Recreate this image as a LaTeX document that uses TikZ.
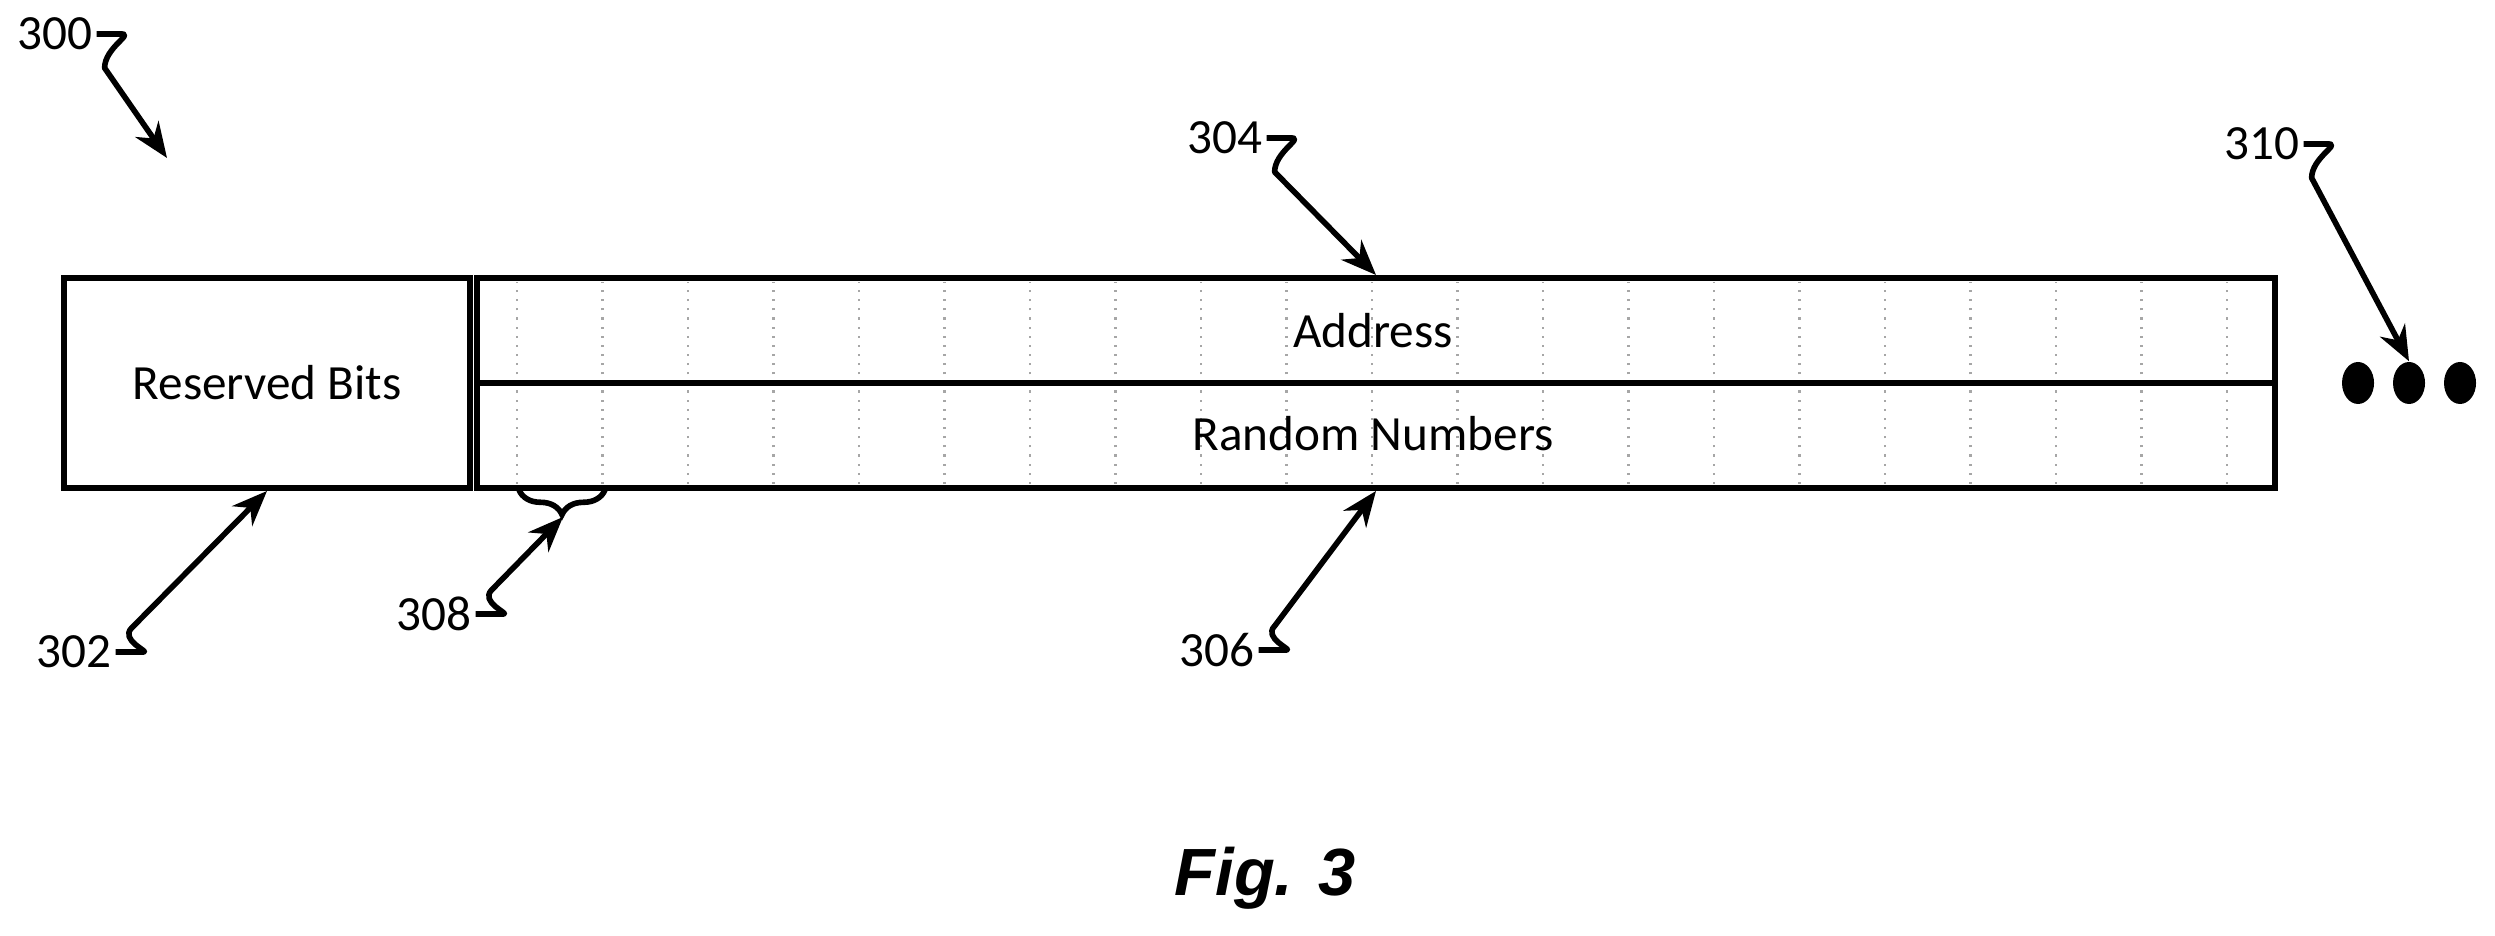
\documentclass[tikz,border=0pt]{standalone}
\usepackage{fontspec}
\setmainfont{Carlito}
\newfontfamily\figfont{Liberation Sans}
\usetikzlibrary{arrows.meta,positioning,decorations.pathreplacing,shapes.geometric}
\tikzset{
  field/.style={draw,line width=1.7pt,minimum height=2.10cm,inner sep=0pt,font=\fontsize{14}{16}\selectfont},
  numlbl/.style={inner sep=1pt,font=\fontsize{14}{16}\selectfont},
  leader/.style={line width=1.6pt,-{Stealth[length=10pt,width=8pt]},line join=round},
  bitline/.style={gray!70,dotted,line width=0.6pt}
}
\begin{document}
\begin{tikzpicture}
\useasboundingbox (0,0) rectangle (24.95,9.36);

% fields
\node[field,minimum width=4.06cm] (rsv) at (2.67,5.53) {Reserved Bits};
\node[field,minimum width=17.98cm] (data) at (13.76,5.53) {};
\foreach \i in {0,...,20}
  \draw[bitline] (5.17+0.855*\i,4.52) -- (5.17+0.855*\i,6.54);
\draw[line width=1.7pt] (data.west) -- (data.east);
\node[font=\fontsize{14}{16}\selectfont] (addr) at (13.73,6.05) {Address};
\node[font=\fontsize{14}{16}\selectfont] (rnd) at (13.73,5.02) {Random Numbers};

% continuation
\foreach \x/\n in {23.58/d1,24.09/d2,24.60/d3}
  \node[fill,ellipse,inner sep=0pt,minimum width=0.32cm,minimum height=0.42cm] (\n) at (\x,5.53) {};

% bit group
\draw[line width=1.6pt,decorate,decoration={brace,mirror,amplitude=7pt}] (5.19,4.46) -- (6.05,4.46);
\coordinate (grp) at (5.63,4.19);

% reference numerals
\node[numlbl] (l300) at (0.55,9.02) {300};
\node[numlbl] (l302) at (0.74,2.84) {302};
\node[numlbl] (l308) at (4.34,3.22) {308};
\node[numlbl] (l304) at (12.25,7.98) {304};
\node[numlbl] (l306) at (12.17,2.86) {306};
\node[numlbl] (l310) at (22.62,7.92) {310};
\coordinate (t300) at (1.67,7.78);

\draw[leader] (l300.east) -- ++(0.25,0) .. controls +(0.12,0) and +(0,0.2) .. ++(-0.17,-0.34) -- (t300);
\draw[leader] (l302.east) -- ++(0.28,0) .. controls +(0.06,0) and +(-0.12,-0.12) .. ++(-0.12,0.24) -- (rsv.south);
\draw[leader] (l308.east) -- ++(0.28,0) .. controls +(0.06,0) and +(-0.12,-0.12) .. ++(-0.12,0.24) -- (grp);
\draw[leader] (l304.east) -- ++(0.25,0) .. controls +(0.12,0) and +(0,0.2) .. ++(-0.17,-0.34) -- (data.north);
\draw[leader] (l306.east) -- ++(0.28,0) .. controls +(0.06,0) and +(-0.12,-0.12) .. ++(-0.12,0.24) -- (data.south);
\draw[leader] (l310.east) -- ++(0.25,0) .. controls +(0.12,0) and +(0,0.2) .. ++(-0.17,-0.34) -- (d2.north);

\node[font=\figfont\bfseries\itshape\fontsize{19}{22}\selectfont] (fig) at (12.65,0.58) {Fig. 3};
\end{tikzpicture}
\end{document}
